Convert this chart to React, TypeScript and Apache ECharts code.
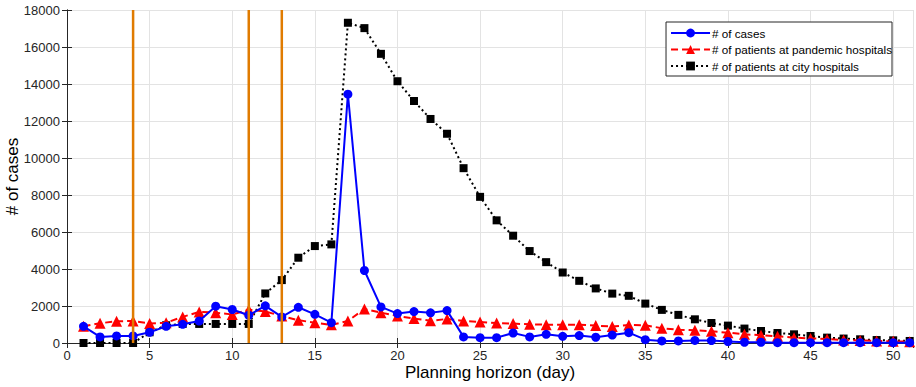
import React, { useEffect, useRef } from "react";
import * as echarts from "echarts";

const days = Array.from({ length: 51 }, (_, i) => i + 1);

const cases = [
  900, 330, 380, 380, 580, 900, 1010, 1190, 1990, 1810,
  1500, 2010, 1410, 1930, 1550, 1100, 13450, 3920, 1950, 1590,
  1700, 1630, 1750, 330, 290, 290, 540, 330, 470, 360,
  400, 310, 430, 560, 180, 110, 110, 140, 130, 80,
  40, 40, 20, 20, 20, 20, 20, 20, 20, 20, 20,
];

const pandemicPatients = [
  900, 1070, 1170, 1190, 1050, 1100, 1410, 1680, 1640, 1540,
  1800, 1700, 1460, 1230, 1100, 980, 1190, 1840, 1640, 1460,
  1320, 1200, 1300, 1190, 1140, 1080, 1050, 1010, 990, 990,
  990, 940, 890, 970, 960, 800, 720, 690, 630, 560,
  470, 420, 360, 290, 250, 220, 160, 140, 110, 90, 70,
];

const cityPatients = [
  0, 0, 0, 0, 580, 960, 1030, 1030, 1030, 1030,
  1030, 2680, 3400, 4610, 5240, 5330, 17310, 17020, 15630, 14150,
  13080, 12110, 11310, 9450, 7900, 6630, 5800, 4970, 4370, 3810,
  3360, 2950, 2670, 2550, 2130, 1790, 1520, 1280, 1080, 940,
  780, 650, 540, 470, 380, 290, 240, 200, 160, 145, 110,
];

const thresholdDays = [4, 11, 13];

const seriesNames = [
  "# of cases",
  "# of patients at pandemic hospitals",
  "# of patients at city hospitals",
];

const xTitle = "Planning horizon (day)";
const yTitle = "# of cases";

const FONT = "'Liberation Sans', Arial, sans-serif";

export default function App() {
  const ref = useRef<HTMLDivElement>(null);

  useEffect(() => {
    if (!ref.current) return;
    const chart = echarts.init(ref.current, undefined, { renderer: "svg" });
    const pair = (arr: number[]) => days.map((d, i) => [d, arr[i]]);

    const axisCommon = {
      type: "value" as const,
      axisLine: { show: true, lineStyle: { color: "#262626", width: 1 } },
      axisTick: { show: true, inside: true, length: 5, lineStyle: { color: "#262626" } },
      axisLabel: {
        color: "#262626",
        fontSize: 13,
        fontFamily: FONT,
        formatter: (v: number) => String(v),
      },
    };

    const vlines = thresholdDays.map((d) => ({
      type: "line" as const,
      data: [
        [d, 0],
        [d, 18000],
      ],
      symbol: "none",
      lineStyle: { color: "#E07B00", width: 2.5 },
      z: 5,
      silent: true,
      legendHoverLink: false,
    }));

    chart.setOption({
      animation: false,
      backgroundColor: "#ffffff",
      textStyle: { fontFamily: FONT },
      grid: {
        left: 67,
        right: 3,
        top: 10,
        bottom: 44,
        containLabel: false,
        outerBoundsMode: "none",
      },
      legend: {
        data: seriesNames,
        orient: "vertical",
        right: 24,
        top: 22,
        backgroundColor: "#ffffff",
        borderColor: "#262626",
        borderWidth: 1,
        borderRadius: 0,
        padding: [5, 0, 4, 4],
        itemWidth: 39,
        itemHeight: 11,
        itemGap: 4.5,
        textStyle: { fontSize: 11.7, color: "#000", fontFamily: FONT, padding: [0, 0, 0, -3] },
      },
      xAxis: [
        {
          ...axisCommon,
          min: 0,
          max: 51.2,
          interval: 5,
          name: xTitle,
          nameLocation: "middle",
          nameGap: 21,
          nameMoveOverlap: false,
          nameTextStyle: { fontSize: 17, color: "#000", fontFamily: FONT },
          axisLabel: { ...axisCommon.axisLabel, margin: 6, showMaxLabel: false },
          splitLine: { show: true, lineStyle: { color: "#e3e3e3", width: 1 } },
        },
        {
          ...axisCommon,
          position: "top",
          min: 0,
          max: 51.2,
          interval: 5,
          axisLabel: { show: false },
          splitLine: { show: false },
        },
      ],
      yAxis: [
        {
          ...axisCommon,
          min: 0,
          max: 18000,
          interval: 2000,
          name: yTitle,
          nameLocation: "middle",
          nameGap: 46,
          nameMoveOverlap: false,
          nameTextStyle: { fontSize: 17, color: "#000", fontFamily: FONT },
          axisLabel: { ...axisCommon.axisLabel, margin: 7 },
          splitLine: { show: true, lineStyle: { color: "#e3e3e3", width: 1 } },
        },
        {
          ...axisCommon,
          position: "right",
          min: 0,
          max: 18000,
          interval: 2000,
          axisLabel: { show: false },
          splitLine: { show: false },
        },
      ],
      series: [
        ...vlines,
        {
          name: seriesNames[0],
          type: "line",
          data: pair(cases),
          symbol: "circle",
          symbolSize: 9,
          color: "#0000FF",
          lineStyle: { color: "#0000FF", width: 2, type: "solid" },
          itemStyle: { color: "#0000FF" },
          z: 4,
        },
        {
          name: seriesNames[1],
          type: "line",
          data: pair(pandemicPatients),
          symbol: "triangle",
          symbolSize: 11,
          color: "#FF0000",
          lineStyle: { color: "#FF0000", width: 2, type: [7, 4] },
          itemStyle: { color: "#FF0000" },
          z: 3,
        },
        {
          name: seriesNames[2],
          type: "line",
          data: pair(cityPatients),
          symbol: "rect",
          symbolSize: 8,
          color: "#000000",
          lineStyle: { color: "#000000", width: 2, type: [2, 3] },
          itemStyle: { color: "#000000" },
          z: 2,
        },
      ],
    });
    return () => chart.dispose();
  }, []);

  return <div ref={ref} style={{ width: 916, height: 387, position: "absolute", left: 0, top: 0 }} />;
}
